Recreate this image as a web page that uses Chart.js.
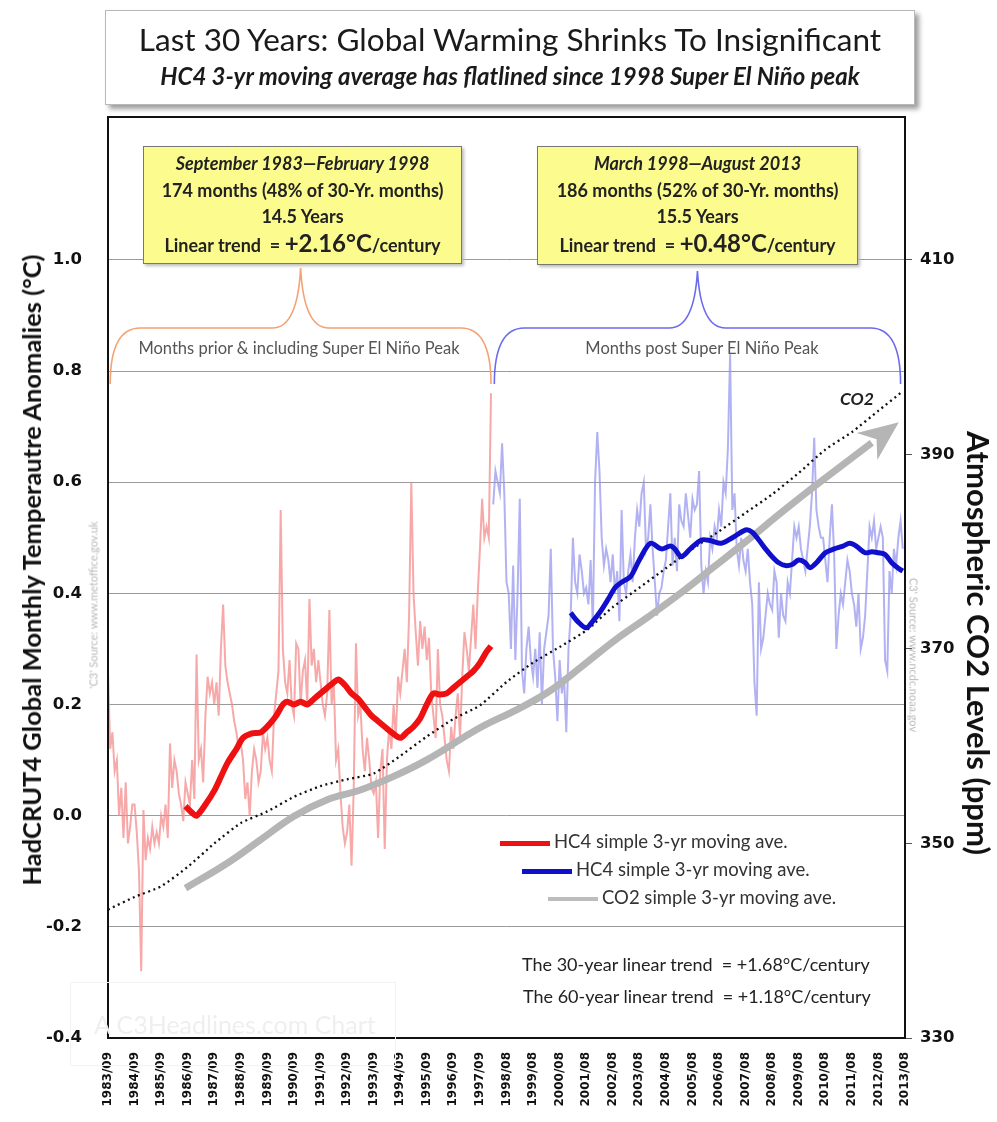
<!DOCTYPE html>
<html>
<head>
<meta charset="utf-8">
<script src="https://cdn.jsdelivr.net/npm/chart.js@4.4.0/dist/chart.umd.min.js"></script>
<style>
  html, body { margin: 0; padding: 0; background: #fff; }
  #wrap { position: relative; width: 997px; height: 1122px; overflow: hidden; font-family: Lato, 'Open Sans', sans-serif; }
  #c { position: absolute; left: 0; top: 0; }
  .abs { position: absolute; white-space: nowrap; }
  #titlebox { left: 105px; top: 10px; width: 808px; height: 93px; border: 1px solid #b8b8b8; background: #fff; box-shadow: 4px 4px 5px #9c9c9c; }
  #t1 { left: 0; width: 808px; top: 9px; text-align: center; font-size: 31.5px; color: #1a1a1a; }
  #t2 { left: 0; width: 808px; top: 50px; text-align: center; font-size: 24px; font-weight: bold; font-style: italic; color: #1a1a1a; }
  .ybox { background: #fbfb8e; border: 1px solid #777; box-shadow: 2px 2px 3px #bbb; text-align: center; font-weight: bold; font-size: 18px; color: #222; line-height: 26.5px; padding-top: 3px; box-sizing: border-box; }
  .ybox .big { font-size: 24px; }
  .brace-lbl { font-size: 16.5px; color: #555; transform: translate(-50%, -50%); }
  .leg { font-size: 18.5px; color: #333; transform: translateY(-50%); }
  .leg i { display: inline-block; width: 50px; vertical-align: middle; margin-right: 4px; }
  .trend { font-size: 18px; color: #222; transform: translateY(-50%); }
  .axtitle { font-weight: bold; color: #111; transform: translate(-50%, -50%) rotate(-90deg); }
  .wm { font-size: 11px; color: #b9b9b9; }
</style>
</head>
<body>
<div id="wrap">
  <canvas id="c" width="997" height="1122"></canvas>

  <div id="titlebox" class="abs">
    <div id="t1" class="abs">Last 30 Years: Global Warming Shrinks To Insignificant</div>
    <div id="t2" class="abs">HC4 3-yr moving average has flatlined since 1998 Super El Niño peak</div>
  </div>

  <div class="abs ybox" style="left:143px;top:146px;width:319px;height:118px;">
    <div><i>September 1983—February 1998</i></div>
    <div>174 months (48% of 30-Yr. months)</div>
    <div>14.5 Years</div>
    <div>Linear trend &nbsp;= <span class="big">+2.16°C</span>/century</div>
  </div>
  <div class="abs ybox" style="left:537px;top:146px;width:321px;height:119px;">
    <div><i>March 1998—August 2013</i></div>
    <div>186 months (52% of 30-Yr. months)</div>
    <div>15.5 Years</div>
    <div>Linear trend &nbsp;= <span class="big">+0.48°C</span>/century</div>
  </div>

  <div class="abs brace-lbl" style="left:299px;top:348px;">Months prior &amp; including Super El Niño Peak</div>
  <div class="abs brace-lbl" style="left:702px;top:348px;">Months post Super El Niño Peak</div>

  <div class="abs" style="left:840px;top:388px;font-size:17.5px;font-weight:bold;font-style:italic;color:#222;">CO2</div>

  <div class="abs leg" style="left:500px;top:841px;"><i style="height:5px;background:#ee1111;"></i>HC4 simple 3-yr moving ave.</div>
  <div class="abs leg" style="left:522px;top:869px;"><i style="height:5px;background:#1010cc;"></i>HC4 simple 3-yr moving ave.</div>
  <div class="abs leg" style="left:548px;top:897px;"><i style="height:4px;background:#bdbdbd;"></i>CO2 simple 3-yr moving ave.</div>

  <div class="abs trend" style="left:522px;top:964px;">The 30-year linear trend &nbsp;= +1.68°C/century</div>
  <div class="abs trend" style="left:523px;top:996px;">The 60-year linear trend &nbsp;= +1.18°C/century</div>

  <div class="abs axtitle" style="left:31px;top:570px;font-size:25.5px;">HadCRUT4 Global Monthly Temperautre Anomalies (°C)</div>
  <div class="abs axtitle" style="left:979px;top:643px;font-size:31px;transform:translate(-50%,-50%) rotate(90deg);">Atmospheric CO2 Levels (ppm)</div>

  <div class="abs wm" style="left:93px;top:605px;transform:translate(-50%,-50%) rotate(-90deg);">'C3' Source: www.metoffice.gov.uk</div>
  <div class="abs wm" style="left:914px;top:655px;transform:translate(-50%,-50%) rotate(90deg);">C3' Source: www.ncdc.noaa.gov</div>

  <div class="abs" style="left:70px;top:982px;width:324px;height:82px;border:1px solid #f3f3f3;"></div>
  <div class="abs" style="left:94px;top:1009px;font-size:25px;color:#efefef;">A C3Headlines.com Chart</div>
</div>

<script>
// x axis: month index 0 = 1983/09 ... 359 = 2013/08
const xLabels = ['1983/09','1984/09','1985/09','1986/09','1987/09','1988/09','1989/09','1990/09',
  '1991/09','1992/09','1993/09','1994/09','1995/09','1996/09','1997/09',
  '1998/08','1999/08','2000/08','2001/08','2002/08','2003/08','2004/08','2005/08','2006/08',
  '2007/08','2008/08','2009/08','2010/08','2011/08','2012/08','2013/08'];
const tempTicks = [-0.4, -0.2, 0.0, 0.2, 0.4, 0.6, 0.8, 1.0];
const co2Ticks = [330, 350, 370, 390, 410];

// HadCRUT4 monthly, 1983/09 - 1998/02 (174 months)
const hc4Before = [
  0.26, 0.12, 0.15, 0.08, 0.10, 0.00, 0.05, -0.04, 0.06, -0.05, -0.02, 0.02,
  0.02, -0.03, -0.10, -0.28, 0.01, -0.08, -0.04, -0.06, -0.02, -0.05, -0.03, -0.05,
  0.00, -0.02, 0.02, -0.04, 0.13, 0.05, 0.10, 0.08, 0.04, 0.02, -0.01, 0.06,
  0.04, 0.02, 0.10, 0.03, 0.29, 0.10, 0.12, 0.06, 0.18, 0.25, 0.22, 0.24,
  0.20, 0.24, 0.18, 0.30, 0.38, 0.27, 0.24, 0.22, 0.20, 0.17, 0.15, 0.12,
  0.13, 0.10, 0.03, 0.06, 0.00, 0.08, 0.12, 0.10, 0.06, 0.08, 0.15, 0.12,
  0.14, 0.10, 0.08, 0.18, 0.22, 0.26, 0.55, 0.30, 0.24, 0.22, 0.28, 0.20,
  0.18, 0.31, 0.30, 0.20, 0.26, 0.28, 0.20, 0.39, 0.27, 0.30, 0.24, 0.28,
  0.24, 0.20, 0.18, 0.22, 0.37, 0.20, 0.24, 0.10, 0.12, 0.04, -0.02, -0.05,
  -0.03, 0.02, -0.09, 0.05, 0.31, 0.18, 0.20, 0.12, 0.08, 0.14, 0.10, 0.05,
  0.04, 0.06, -0.04, 0.08, 0.12, -0.06, 0.10, 0.16, 0.12, 0.20, 0.14, 0.25,
  0.22, 0.26, 0.30, 0.24, 0.36, 0.60, 0.40, 0.33, 0.27, 0.35, 0.30, 0.34,
  0.28, 0.32, 0.22, 0.18, 0.14, 0.30, 0.20, 0.18, 0.14, 0.10, 0.08, 0.16,
  0.12, 0.18, 0.22, 0.14, 0.25, 0.33, 0.30, 0.26, 0.32, 0.38, 0.30, 0.40,
  0.48, 0.57, 0.50, 0.52, 0.50, 0.76
];
// HadCRUT4 monthly, 1998/03 - 2013/08 (186 months)
const hc4After = [
  0.56, 0.62, 0.60, 0.58, 0.67, 0.58, 0.42, 0.40, 0.30, 0.45,
  0.28, 0.40, 0.57, 0.26, 0.22, 0.30, 0.34, 0.28, 0.25, 0.30, 0.23, 0.33,
  0.20, 0.30, 0.33, 0.36, 0.48, 0.30, 0.25, 0.17, 0.28, 0.22, 0.25, 0.15,
  0.30, 0.36, 0.50, 0.42, 0.40, 0.47, 0.44, 0.40, 0.41, 0.38, 0.46, 0.34,
  0.60, 0.69, 0.62, 0.50, 0.45, 0.48, 0.46, 0.42, 0.47, 0.40, 0.44, 0.35,
  0.55, 0.42, 0.40, 0.44, 0.47, 0.42, 0.50, 0.55, 0.52, 0.58, 0.60, 0.48,
  0.50, 0.56, 0.48, 0.42, 0.36, 0.40, 0.41, 0.44, 0.46, 0.52, 0.58, 0.45,
  0.50, 0.44, 0.56, 0.53, 0.52, 0.58, 0.54, 0.50, 0.57, 0.55, 0.56, 0.62,
  0.45, 0.40, 0.44, 0.42, 0.50, 0.48, 0.52, 0.50, 0.55, 0.52, 0.60, 0.58,
  0.66, 0.83, 0.55, 0.58, 0.48, 0.45, 0.50, 0.46, 0.44, 0.48, 0.42, 0.38,
  0.24, 0.18, 0.42, 0.30, 0.32, 0.36, 0.40, 0.38, 0.37, 0.44, 0.42, 0.32,
  0.40, 0.36, 0.35, 0.42, 0.40, 0.46, 0.52, 0.50, 0.52, 0.48, 0.46, 0.44,
  0.48, 0.52, 0.58, 0.68, 0.55, 0.52, 0.50, 0.50, 0.46, 0.42, 0.50, 0.56,
  0.47, 0.30, 0.36, 0.40, 0.38, 0.42, 0.46, 0.44, 0.40, 0.38, 0.34, 0.40,
  0.30, 0.32, 0.36, 0.44, 0.52, 0.50, 0.53, 0.48, 0.50, 0.52, 0.50, 0.28,
  0.26, 0.44, 0.40, 0.48, 0.45, 0.50, 0.53, 0.48
];

// 3-yr moving averages (month index, value)
const redMaMonths = [35,38,40,44,48,51,54,58,61,65,69,73,76,79,81,84,87,90,93,96,99,102,104,107,110,113,116,119,122,125,128,132,135,138,141,144,147,150,153,156,159,162,165,168,171,173];
const redMaValues = [0.017,0.005,0.00,0.02,0.045,0.07,0.095,0.12,0.14,0.148,0.15,0.165,0.18,0.20,0.205,0.20,0.205,0.20,0.21,0.22,0.23,0.24,0.245,0.235,0.22,0.21,0.195,0.18,0.17,0.16,0.15,0.14,0.15,0.16,0.175,0.20,0.22,0.218,0.22,0.23,0.24,0.25,0.26,0.275,0.295,0.305];
const blueMaMonths = [209,212,216,219,222,226,229,232,236,240,245,250,254,256,259,263,268,272,277,282,288,291,294,297,300,303,306,309,312,315,317,320,324,328,332,335,338,342,345,348,351,354,357,359];
const blueMaValues = [0.365,0.35,0.338,0.35,0.365,0.39,0.41,0.42,0.43,0.46,0.49,0.48,0.485,0.48,0.466,0.48,0.496,0.495,0.49,0.50,0.514,0.51,0.496,0.48,0.466,0.455,0.45,0.452,0.46,0.455,0.446,0.455,0.473,0.48,0.485,0.49,0.485,0.473,0.475,0.473,0.47,0.455,0.445,0.44];

// CO2 (ppm): monthly level sampled once a year, and its 3-yr moving average
const co2Months = [0,12,24,36,48,60,72,84,96,108,120,132,144,156,168,180,192,204,216,228,240,252,264,276,288,300,312,324,336,348,359];
const co2Values = [343.2,344.5,345.6,347.6,350.0,352.1,353.3,354.8,355.9,356.6,357.2,359.0,361.0,362.8,364.2,366.6,368.6,370.2,371.9,374.3,376.3,378.3,380.3,382.1,384.0,385.9,388.1,390.5,392.3,394.5,396.5];
const co2MaMonths = [35,54,69,84,99,114,129,144,168,185,199,214,229,244,259,274,289,304,319,334,345];
const co2MaValues = [345.4,348.0,350.4,352.8,354.5,355.5,356.9,358.6,361.9,363.8,365.6,368.2,370.9,373.3,375.8,378.5,381.2,384.0,386.7,389.3,391.2];

const pairs = (xs, ys) => xs.map((x, i) => ({ x, y: ys[i] }));

const decor = {
  id: 'decor',
  afterDatasetsDraw(chart) {
    // arrow head on the CO2 moving average
    const ctx = chart.ctx;
    const pts = chart.getDatasetMeta(2).data;
    const a = pts[pts.length - 3], b = pts[pts.length - 1];
    const ang = Math.atan2(b.y - a.y, b.x - a.x);
    const L = 40, W = 17;
    const tip = { x: b.x + Math.cos(ang) * (L - 6), y: b.y + Math.sin(ang) * (L - 6) };
    const back = (d, s) => ({
      x: tip.x - Math.cos(ang) * d - Math.sin(ang) * s,
      y: tip.y - Math.sin(ang) * d + Math.cos(ang) * s
    });
    const p1 = back(L, W), p2 = back(L - 12, 0), p3 = back(L, -W);
    ctx.save();
    ctx.fillStyle = '#b5b5b5';
    ctx.beginPath();
    ctx.moveTo(tip.x, tip.y);
    ctx.lineTo(p1.x, p1.y);
    ctx.lineTo(p2.x, p2.y);
    ctx.lineTo(p3.x, p3.y);
    ctx.closePath();
    ctx.fill();
    ctx.restore();
  },
  afterDraw(chart) {
    const ctx = chart.ctx;
    const ca = chart.chartArea;
    const xs = chart.scales.x;
    ctx.save();
    ctx.strokeStyle = '#111';
    ctx.lineWidth = 2;
    ctx.strokeRect(ca.left, ca.top, ca.right - ca.left, ca.bottom - ca.top);

    function brace(x0, x1, yEnd, yMid, yTip, color) {
      const xt = (x0 + x1) / 2;
      ctx.strokeStyle = color;
      ctx.lineWidth = 1.6;
      ctx.beginPath();
      ctx.moveTo(x0, yEnd);
      ctx.bezierCurveTo(x0, yEnd - 38, x0 + 10, yMid, x0 + 30, yMid);
      ctx.lineTo(xt - 28, yMid);
      ctx.bezierCurveTo(xt - 10, yMid, xt - 2, yMid - 22, xt, yTip);
      ctx.bezierCurveTo(xt + 2, yMid - 22, xt + 10, yMid, xt + 28, yMid);
      ctx.lineTo(x1 - 30, yMid);
      ctx.bezierCurveTo(x1 - 10, yMid, x1, yEnd - 38, x1, yEnd);
      ctx.stroke();
    }
    brace(xs.getPixelForValue(1), xs.getPixelForValue(173), 384, 328, 268, '#f4a273');
    brace(xs.getPixelForValue(174.5), xs.getPixelForValue(358), 384, 328, 271, '#6b6bee');
    ctx.restore();
  }
};

new Chart(document.getElementById('c'), {
  type: 'line',
  data: {
    datasets: [
      { label: 'HC4 3-yr MA (before)', data: pairs(redMaMonths, redMaValues), yAxisID: 'y',
        borderColor: '#ee1111', borderWidth: 6, pointRadius: 0, tension: 0.3, order: 1 },
      { label: 'HC4 3-yr MA (after)', data: pairs(blueMaMonths, blueMaValues), yAxisID: 'y',
        borderColor: '#1010cc', borderWidth: 5, pointRadius: 0, tension: 0.3, order: 2 },
      { label: 'CO2 3-yr MA', data: pairs(co2MaMonths, co2MaValues), yAxisID: 'y2',
        borderColor: '#b5b5b5', borderWidth: 7, pointRadius: 0, tension: 0.4, order: 3 },
      { label: 'CO2', data: pairs(co2Months, co2Values), yAxisID: 'y2',
        borderColor: '#111', borderWidth: 2.3, borderDash: [2, 3.5], pointRadius: 0, tension: 0.2, order: 4 },
      { label: 'HC4 monthly (before)', data: hc4Before.map((v, i) => ({ x: i, y: v })), yAxisID: 'y',
        borderColor: 'rgba(244,140,140,0.75)', borderWidth: 2, pointRadius: 0, tension: 0, order: 5 },
      { label: 'HC4 monthly (after)', data: hc4After.map((v, i) => ({ x: 174 + i, y: v })), yAxisID: 'y',
        borderColor: 'rgba(145,145,238,0.7)', borderWidth: 2, pointRadius: 0, tension: 0, order: 6 }
    ]
  },
  options: {
    responsive: false,
    animation: false,
    events: [],
    layout: { padding: { top: 117, left: 0, right: 0, bottom: 0 } },
    plugins: { legend: { display: false }, tooltip: { enabled: false } },
    scales: {
      x: {
        type: 'linear', min: 0, max: 360,
        afterBuildTicks: s => { s.ticks = xLabels.map((_, i) => ({ value: i * 12 })); },
        afterFit: s => { s.height = 84; },
        grid: { display: false },
        border: { display: false },
        ticks: {
          autoSkip: false, minRotation: 90, maxRotation: 90, padding: 6,
          color: '#111', font: { family: 'DejaVu Sans', weight: 'bold', size: 12 },
          callback: v => xLabels[Math.round(v / 12)]
        }
      },
      y: {
        position: 'left', min: -0.4, max: 1.257,
        afterBuildTicks: s => { s.ticks = tempTicks.map(v => ({ value: v })); },
        afterFit: s => { s.width = 108; },
        grid: { color: '#9a9a9a', lineWidth: 1, drawTicks: false },
        border: { display: false },
        ticks: {
          padding: 26, color: '#111', font: { family: 'DejaVu Sans', weight: 'bold', size: 16.5 },
          callback: v => v.toFixed(1)
        }
      },
      y2: {
        position: 'right', min: 330, max: 424.7,
        afterBuildTicks: s => { s.ticks = co2Ticks.map(v => ({ value: v })); },
        afterFit: s => { s.width = 92; },
        grid: { drawOnChartArea: false, drawTicks: true, tickLength: 7, color: '#555' },
        border: { display: false },
        ticks: {
          padding: 8, color: '#111', font: { family: 'DejaVu Sans', weight: 'bold', size: 16.5 },
          callback: v => String(v)
        }
      }
    }
  },
  plugins: [decor]
});
</script>
</body>
</html>
